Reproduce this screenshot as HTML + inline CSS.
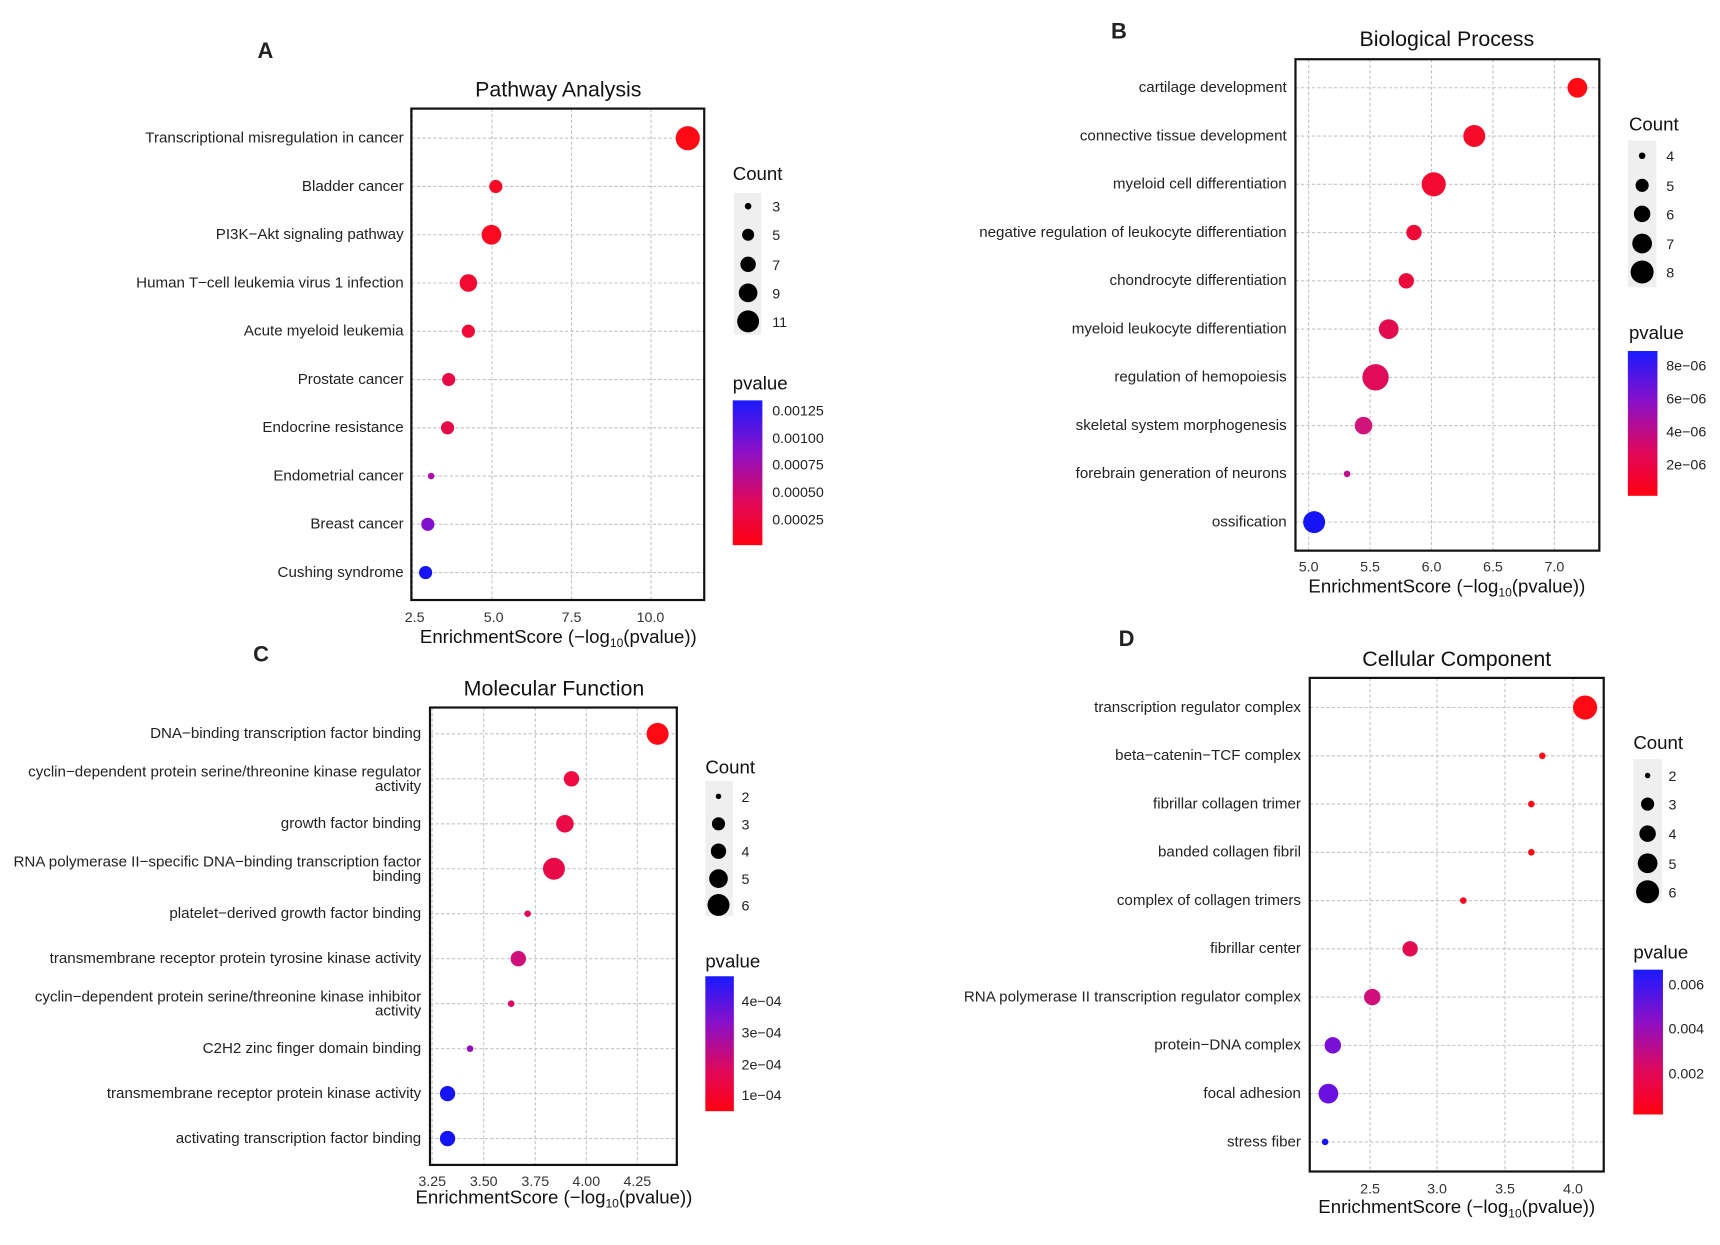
<!DOCTYPE html>
<html><head><meta charset="utf-8"><style>
html,body{margin:0;padding:0;background:#fff;}
svg{display:block;font-family:"Liberation Sans",Arial,sans-serif;}
.l{font-size:13.8px;fill:#222;text-anchor:end;}
.t{font-size:19.5px;fill:#111;text-anchor:middle;}
.x{font-size:13px;fill:#333;text-anchor:middle;}
.xl{font-size:17px;fill:#111;text-anchor:middle;}
.lg{font-size:17px;fill:#111;}
.ll{font-size:13px;fill:#222;}
.pl{font-size:20px;font-weight:bold;fill:#222;text-anchor:middle;}
.g{stroke:#c4c4c4;stroke-width:1;stroke-dasharray:3 2;}
.b{fill:none;stroke:#111;stroke-width:2;}
</style></head><body>
<svg width="1720" height="1245" viewBox="0 0 1568 1135" preserveAspectRatio="none">
<defs><linearGradient id="cb" x1="0" y1="0" x2="0" y2="1"><stop offset="0" stop-color="#1a1aff"/><stop offset="0.35" stop-color="#8a10c8"/><stop offset="0.7" stop-color="#e0085a"/><stop offset="1" stop-color="#ff0010"/></linearGradient></defs>
<rect width="1568" height="1135" fill="#fff"/>

<!-- Panel A -->
<text class="pl" x="242" y="53">A</text>
<text class="t" x="509" y="88">Pathway Analysis</text>
<g class="g">
<line x1="376" y1="99" x2="376" y2="547"/><line x1="448.5" y1="99" x2="448.5" y2="547"/><line x1="521" y1="99" x2="521" y2="547"/><line x1="593.5" y1="99" x2="593.5" y2="547"/>
<line x1="375" y1="126" x2="642" y2="126"/><line x1="375" y1="170" x2="642" y2="170"/><line x1="375" y1="214" x2="642" y2="214"/><line x1="375" y1="258" x2="642" y2="258"/><line x1="375" y1="302" x2="642" y2="302"/><line x1="375" y1="346" x2="642" y2="346"/><line x1="375" y1="390" x2="642" y2="390"/><line x1="375" y1="434" x2="642" y2="434"/><line x1="375" y1="478" x2="642" y2="478"/><line x1="375" y1="522" x2="642" y2="522"/>
</g>
<rect class="b" x="375" y="99" width="267" height="448"/>
<g class="l">
<text x="368" y="130">Transcriptional misregulation in cancer</text><text x="368" y="174">Bladder cancer</text><text x="368" y="218">PI3K−Akt signaling pathway</text><text x="368" y="262">Human T−cell leukemia virus 1 infection</text><text x="368" y="306">Acute myeloid leukemia</text><text x="368" y="350">Prostate cancer</text><text x="368" y="394">Endocrine resistance</text><text x="368" y="438">Endometrial cancer</text><text x="368" y="482">Breast cancer</text><text x="368" y="526">Cushing syndrome</text>
</g>
<g class="x"><text x="378" y="567">2.5</text><text x="450" y="567">5.0</text><text x="521" y="567">7.5</text><text x="593" y="567">10.0</text></g>
<text class="xl" x="509" y="586">EnrichmentScore (−log<tspan font-size="11" dy="4">10</tspan><tspan dy="-4">(pvalue))</tspan></text>
<circle cx="627" cy="126" r="11" fill="#ff0a14"/><circle cx="452" cy="170" r="6" fill="#f80a28"/><circle cx="448" cy="214" r="9" fill="#fa0a20"/><circle cx="427" cy="258" r="8" fill="#f20a30"/><circle cx="427" cy="302" r="6" fill="#f00a35"/><circle cx="409" cy="346" r="6" fill="#e80a45"/><circle cx="408" cy="390" r="6" fill="#e60a48"/><circle cx="393" cy="434" r="3" fill="#b010a8"/><circle cx="390" cy="478" r="6" fill="#8010d0"/><circle cx="388" cy="522" r="6" fill="#1414f5"/>
<text class="lg" x="668" y="164">Count</text>
<rect x="669" y="176" width="25" height="129" fill="#efefef"/>
<circle cx="682" cy="188" r="3"/><circle cx="682" cy="214" r="5.5"/><circle cx="682" cy="241" r="7"/><circle cx="682" cy="267" r="8.5"/><circle cx="682" cy="293" r="10"/>
<g class="ll"><text x="704" y="193">3</text><text x="704" y="219">5</text><text x="704" y="246">7</text><text x="704" y="272">9</text><text x="704" y="298">11</text></g>
<text class="lg" x="668" y="355">pvalue</text>
<rect x="668" y="365" width="27" height="132" fill="url(#cb)"/>
<g class="ll"><text x="704" y="379">0.00125</text><text x="704" y="404">0.00100</text><text x="704" y="428">0.00075</text><text x="704" y="453">0.00050</text><text x="704" y="478">0.00025</text></g>

<!-- Panel B -->
<text class="pl" x="1020" y="35">B</text>
<text class="t" x="1319" y="42">Biological Process</text>
<g class="g">
<line x1="1193" y1="54" x2="1193" y2="502"/><line x1="1249" y1="54" x2="1249" y2="502"/><line x1="1305" y1="54" x2="1305" y2="502"/><line x1="1361" y1="54" x2="1361" y2="502"/><line x1="1417" y1="54" x2="1417" y2="502"/>
<line x1="1181" y1="80" x2="1458" y2="80"/><line x1="1181" y1="124" x2="1458" y2="124"/><line x1="1181" y1="168" x2="1458" y2="168"/><line x1="1181" y1="212" x2="1458" y2="212"/><line x1="1181" y1="256" x2="1458" y2="256"/><line x1="1181" y1="300" x2="1458" y2="300"/><line x1="1181" y1="344" x2="1458" y2="344"/><line x1="1181" y1="388" x2="1458" y2="388"/><line x1="1181" y1="432" x2="1458" y2="432"/><line x1="1181" y1="476" x2="1458" y2="476"/>
</g>
<rect class="b" x="1181" y="54" width="277" height="448"/>
<g class="l">
<text x="1173" y="84">cartilage development</text><text x="1173" y="128">connective tissue development</text><text x="1173" y="172">myeloid cell differentiation</text><text x="1173" y="216">negative regulation of leukocyte differentiation</text><text x="1173" y="260">chondrocyte differentiation</text><text x="1173" y="304">myeloid leukocyte differentiation</text><text x="1173" y="348">regulation of hemopoiesis</text><text x="1173" y="392">skeletal system morphogenesis</text><text x="1173" y="436">forebrain generation of neurons</text><text x="1173" y="480">ossification</text>
</g>
<g class="x"><text x="1193" y="521">5.0</text><text x="1249" y="521">5.5</text><text x="1305" y="521">6.0</text><text x="1361" y="521">6.5</text><text x="1417" y="521">7.0</text></g>
<text class="xl" x="1319" y="540">EnrichmentScore (−log<tspan font-size="11" dy="4">10</tspan><tspan dy="-4">(pvalue))</tspan></text>
<circle cx="1438" cy="80" r="9" fill="#ff0a14"/><circle cx="1344" cy="124" r="10" fill="#f50a28"/><circle cx="1307" cy="168" r="11" fill="#f20a30"/><circle cx="1289" cy="212" r="7" fill="#ee0a38"/><circle cx="1282" cy="256" r="7" fill="#ec0a3c"/><circle cx="1266" cy="300" r="9" fill="#e40a50"/><circle cx="1254" cy="344" r="12" fill="#e00c5a"/><circle cx="1243" cy="388" r="8" fill="#d0147a"/><circle cx="1228" cy="432" r="3" fill="#c01090"/><circle cx="1198" cy="476" r="10" fill="#1414f5"/>
<text class="lg" x="1485" y="119">Count</text>
<rect x="1484" y="128" width="26" height="134" fill="#efefef"/>
<circle cx="1497" cy="142" r="3"/><circle cx="1497" cy="169" r="6"/><circle cx="1497" cy="195" r="7.5"/><circle cx="1497" cy="222" r="9"/><circle cx="1497" cy="248" r="10.5"/>
<g class="ll"><text x="1519" y="147">4</text><text x="1519" y="174">5</text><text x="1519" y="200">6</text><text x="1519" y="227">7</text><text x="1519" y="253">8</text></g>
<text class="lg" x="1485" y="309">pvalue</text>
<rect x="1484" y="320" width="27" height="132" fill="url(#cb)"/>
<g class="ll"><text x="1519" y="338">8e−06</text><text x="1519" y="368">6e−06</text><text x="1519" y="398">4e−06</text><text x="1519" y="428">2e−06</text></g>

<!-- Panel C -->
<text class="pl" x="238" y="603">C</text>
<text class="t" x="505" y="634">Molecular Function</text>
<g class="g">
<line x1="394" y1="645" x2="394" y2="1062"/><line x1="441" y1="645" x2="441" y2="1062"/><line x1="488" y1="645" x2="488" y2="1062"/><line x1="534.5" y1="645" x2="534.5" y2="1062"/><line x1="581" y1="645" x2="581" y2="1062"/>
<line x1="392" y1="669" x2="617" y2="669"/><line x1="392" y1="710" x2="617" y2="710"/><line x1="392" y1="751" x2="617" y2="751"/><line x1="392" y1="792" x2="617" y2="792"/><line x1="392" y1="833" x2="617" y2="833"/><line x1="392" y1="874" x2="617" y2="874"/><line x1="392" y1="915" x2="617" y2="915"/><line x1="392" y1="956" x2="617" y2="956"/><line x1="392" y1="997" x2="617" y2="997"/><line x1="392" y1="1038" x2="617" y2="1038"/>
</g>
<rect class="b" x="392" y="645" width="225" height="417"/>
<g class="l">
<text x="384" y="673">DNA−binding transcription factor binding</text>
<text x="384" y="708">cyclin−dependent protein serine/threonine kinase regulator</text><text x="384" y="721">activity</text>
<text x="384" y="755">growth factor binding</text>
<text x="384" y="790">RNA polymerase II−specific DNA−binding transcription factor</text><text x="384" y="803">binding</text>
<text x="384" y="837">platelet−derived growth factor binding</text>
<text x="384" y="878">transmembrane receptor protein tyrosine kinase activity</text>
<text x="384" y="913">cyclin−dependent protein serine/threonine kinase inhibitor</text><text x="384" y="926">activity</text>
<text x="384" y="960">C2H2 zinc finger domain binding</text>
<text x="384" y="1001">transmembrane receptor protein kinase activity</text>
<text x="384" y="1042">activating transcription factor binding</text>
</g>
<g class="x"><text x="394" y="1081">3.25</text><text x="441" y="1081">3.50</text><text x="488" y="1081">3.75</text><text x="534.5" y="1081">4.00</text><text x="581" y="1081">4.25</text></g>
<text class="xl" x="505" y="1097">EnrichmentScore (−log<tspan font-size="11" dy="4">10</tspan><tspan dy="-4">(pvalue))</tspan></text>
<circle cx="599.5" cy="669" r="10" fill="#ff0a14"/><circle cx="521" cy="710" r="7" fill="#ee0a40"/><circle cx="515" cy="751" r="8" fill="#ea0a45"/><circle cx="505" cy="792" r="10" fill="#e80a48"/><circle cx="481" cy="833" r="3" fill="#e0085a"/><circle cx="472.5" cy="874" r="7" fill="#d0107a"/><circle cx="466" cy="915" r="3" fill="#e00860"/><circle cx="428.5" cy="956" r="3" fill="#9010c0"/><circle cx="408" cy="997" r="7" fill="#1414f5"/><circle cx="408" cy="1038" r="7" fill="#1414f5"/>
<text class="lg" x="643" y="705">Count</text>
<rect x="643" y="712" width="25" height="123" fill="#efefef"/>
<circle cx="655" cy="726" r="2.5"/><circle cx="655" cy="751" r="6"/><circle cx="655" cy="776" r="7"/><circle cx="655" cy="801" r="8.5"/><circle cx="655" cy="825" r="10"/>
<g class="ll"><text x="676" y="731">2</text><text x="676" y="756">3</text><text x="676" y="781">4</text><text x="676" y="806">5</text><text x="676" y="830">6</text></g>
<text class="lg" x="643" y="882">pvalue</text>
<rect x="643" y="890" width="26" height="123" fill="url(#cb)"/>
<g class="ll"><text x="676" y="917">4e−04</text><text x="676" y="946">3e−04</text><text x="676" y="975">2e−04</text><text x="676" y="1003">1e−04</text></g>

<!-- Panel D -->
<text class="pl" x="1027" y="589">D</text>
<text class="t" x="1328" y="607">Cellular Component</text>
<g class="g">
<line x1="1249" y1="618" x2="1249" y2="1068"/><line x1="1310" y1="618" x2="1310" y2="1068"/><line x1="1372" y1="618" x2="1372" y2="1068"/><line x1="1434" y1="618" x2="1434" y2="1068"/>
<line x1="1194" y1="645" x2="1462" y2="645"/><line x1="1194" y1="689" x2="1462" y2="689"/><line x1="1194" y1="733" x2="1462" y2="733"/><line x1="1194" y1="777" x2="1462" y2="777"/><line x1="1194" y1="821" x2="1462" y2="821"/><line x1="1194" y1="865" x2="1462" y2="865"/><line x1="1194" y1="909" x2="1462" y2="909"/><line x1="1194" y1="953" x2="1462" y2="953"/><line x1="1194" y1="997" x2="1462" y2="997"/><line x1="1194" y1="1041" x2="1462" y2="1041"/>
</g>
<rect class="b" x="1194" y="618" width="268" height="450"/>
<g class="l">
<text x="1186" y="649">transcription regulator complex</text><text x="1186" y="693">beta−catenin−TCF complex</text><text x="1186" y="737">fibrillar collagen trimer</text><text x="1186" y="781">banded collagen fibril</text><text x="1186" y="825">complex of collagen trimers</text><text x="1186" y="869">fibrillar center</text><text x="1186" y="913">RNA polymerase II transcription regulator complex</text><text x="1186" y="957">protein−DNA complex</text><text x="1186" y="1001">focal adhesion</text><text x="1186" y="1045">stress fiber</text>
</g>
<g class="x"><text x="1249" y="1088">2.5</text><text x="1310" y="1088">3.0</text><text x="1372" y="1088">3.5</text><text x="1434" y="1088">4.0</text></g>
<text class="xl" x="1328" y="1106">EnrichmentScore (−log<tspan font-size="11" dy="4">10</tspan><tspan dy="-4">(pvalue))</tspan></text>
<circle cx="1445" cy="645" r="11" fill="#ff0a14"/><circle cx="1406" cy="689" r="3" fill="#ff0a14"/><circle cx="1396" cy="733" r="3" fill="#ff0a14"/><circle cx="1396" cy="777" r="3" fill="#ff0a14"/><circle cx="1334" cy="821" r="3" fill="#fa0a20"/><circle cx="1285.5" cy="865" r="7" fill="#e40a50"/><circle cx="1251" cy="909" r="7.5" fill="#d0107a"/><circle cx="1215" cy="953" r="7.5" fill="#7a10d8"/><circle cx="1211" cy="997" r="9" fill="#6a10e0"/><circle cx="1208" cy="1041" r="3" fill="#1414f5"/>
<text class="lg" x="1489" y="683">Count</text>
<rect x="1489" y="692" width="26" height="130" fill="#efefef"/>
<circle cx="1502" cy="707" r="2.5"/><circle cx="1502" cy="733" r="6"/><circle cx="1502" cy="760" r="7.5"/><circle cx="1502" cy="787" r="9"/><circle cx="1502" cy="813" r="10.5"/>
<g class="ll"><text x="1521" y="712">2</text><text x="1521" y="738">3</text><text x="1521" y="765">4</text><text x="1521" y="792">5</text><text x="1521" y="818">6</text></g>
<text class="lg" x="1489" y="874">pvalue</text>
<rect x="1489" y="884" width="27" height="132" fill="url(#cb)"/>
<g class="ll"><text x="1521" y="902">0.006</text><text x="1521" y="942">0.004</text><text x="1521" y="983">0.002</text></g>
</svg>
</body></html>
